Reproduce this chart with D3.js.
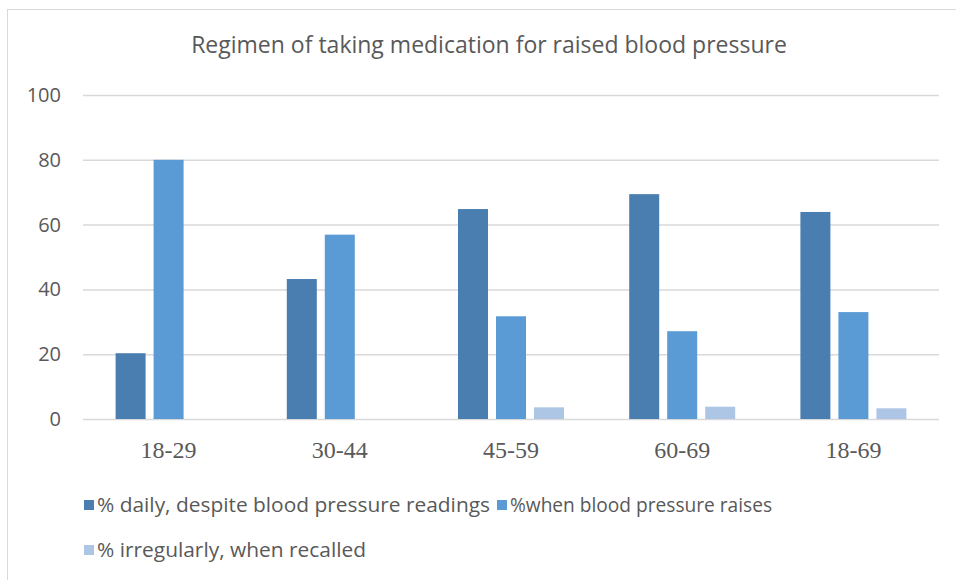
<!DOCTYPE html>
<html>
<head>
<meta charset="utf-8">
<script src="https://cdn.jsdelivr.net/npm/d3@7"></script>
<style>
  html, body { margin: 0; padding: 0; background: #fff; }
  svg { display: block; }
</style>
</head>
<body>
<svg id="chart" width="956" height="580"></svg>
<script>
const title = "Regimen of taking medication for raised blood pressure";
const categories = ["18-29", "30-44", "45-59", "60-69", "18-69"];
const seriesNames = [
  "% daily, despite blood pressure readings",
  "%when blood pressure raises",
  "% irregularly, when recalled"
];
const dailyValues = [20.3, 43.2, 64.8, 69.4, 63.9];
const whenRaisedValues = [80, 56.9, 31.7, 27.1, 33.0];
const irregularValues = [0, 0, 3.6, 3.8, 3.3];
const yTicks = [0, 20, 40, 60, 80, 100];
const colors = ["#4A7EB0", "#5B9BD5", "#ADC6E6"];

const seriesValues = [dailyValues, whenRaisedValues, irregularValues];

const svg = d3.select("#chart");
const textColor = "#595959";

// outer chart border
svg.append("rect")
  .attr("x", 7.5).attr("y", 9.5)
  .attr("width", 1000).attr("height", 1000)
  .attr("fill", "#fff").attr("stroke", "#D9D9D9").attr("stroke-width", 1);

const plot = { left: 83, right: 939, top: 95, bottom: 419 };

const x = d3.scaleBand().domain(categories).range([plot.left, plot.right]).padding(0);
const groupW = 106;
const xs = d3.scaleBand().domain(d3.range(seriesNames.length))
  .range([(x.bandwidth() - groupW) / 2, (x.bandwidth() + groupW) / 2])
  .paddingInner(8 / 38);
const y = d3.scaleLinear().domain([0, 100]).range([plot.bottom, plot.top]);

// title
svg.append("text")
  .attr("x", 489)
  .attr("y", 53)
  .attr("text-anchor", "middle")
  .attr("font-family", "'Open Sans', sans-serif")
  .attr("font-size", 23)
  .attr("fill", textColor)
  .text(title);

// gridlines + y axis labels
const yAxis = d3.axisLeft(y).tickValues(yTicks).tickSize(-(plot.right - plot.left)).tickPadding(22);
const gy = svg.append("g").attr("transform", `translate(${plot.left},0)`).call(yAxis);
gy.select(".domain").remove();
gy.selectAll(".tick line").attr("stroke", "#D9D9D9").attr("stroke-width", 1.5);
gy.selectAll(".tick text")
  .attr("font-family", "'Open Sans', sans-serif")
  .attr("font-size", 20)
  .attr("fill", textColor);

// x axis labels
const xAxis = d3.axisBottom(x).tickSize(0).tickPadding(22);
const gx = svg.append("g").attr("transform", `translate(0,${plot.bottom})`).call(xAxis);
gx.select(".domain").remove();
gx.selectAll(".tick text")
  .attr("font-family", "'Liberation Serif', 'Times New Roman', serif")
  .attr("font-size", 24)
  .attr("fill", textColor);

// bars
const groups = svg.append("g").selectAll("g")
  .data(categories)
  .join("g")
  .attr("transform", d => `translate(${x(d)},0)`);

groups.selectAll("rect")
  .data((d, i) => seriesValues.map((vals, s) => ({ s, v: vals[i] })))
  .join("rect")
  .attr("x", d => xs(d.s))
  .attr("width", xs.bandwidth())
  .attr("y", d => y(d.v))
  .attr("height", d => y(0) - y(d.v))
  .attr("fill", d => colors[d.s])
  .attr("display", d => d.v > 0 ? null : "none");

// legend
const legendItems = [
  { s: 0, x: 84, y: 505, w: 393 },
  { s: 1, x: 497, y: 505, w: 262 },
  { s: 2, x: 84, y: 550, w: 269 }
];
const lg = svg.append("g").selectAll("g").data(legendItems).join("g")
  .attr("transform", d => `translate(${d.x},${d.y})`);
lg.append("rect")
  .attr("x", 0).attr("y", -5).attr("width", 10).attr("height", 10)
  .attr("fill", d => colors[d.s]);
lg.append("text")
  .attr("x", 13).attr("y", 0).attr("dy", "0.35em")
  .attr("font-family", "'Open Sans', sans-serif")
  .attr("font-size", 20)
  .attr("textLength", d => d.w)
  .attr("lengthAdjust", "spacingAndGlyphs")
  .attr("fill", textColor)
  .text(d => seriesNames[d.s]);
</script>
</body>
</html>
